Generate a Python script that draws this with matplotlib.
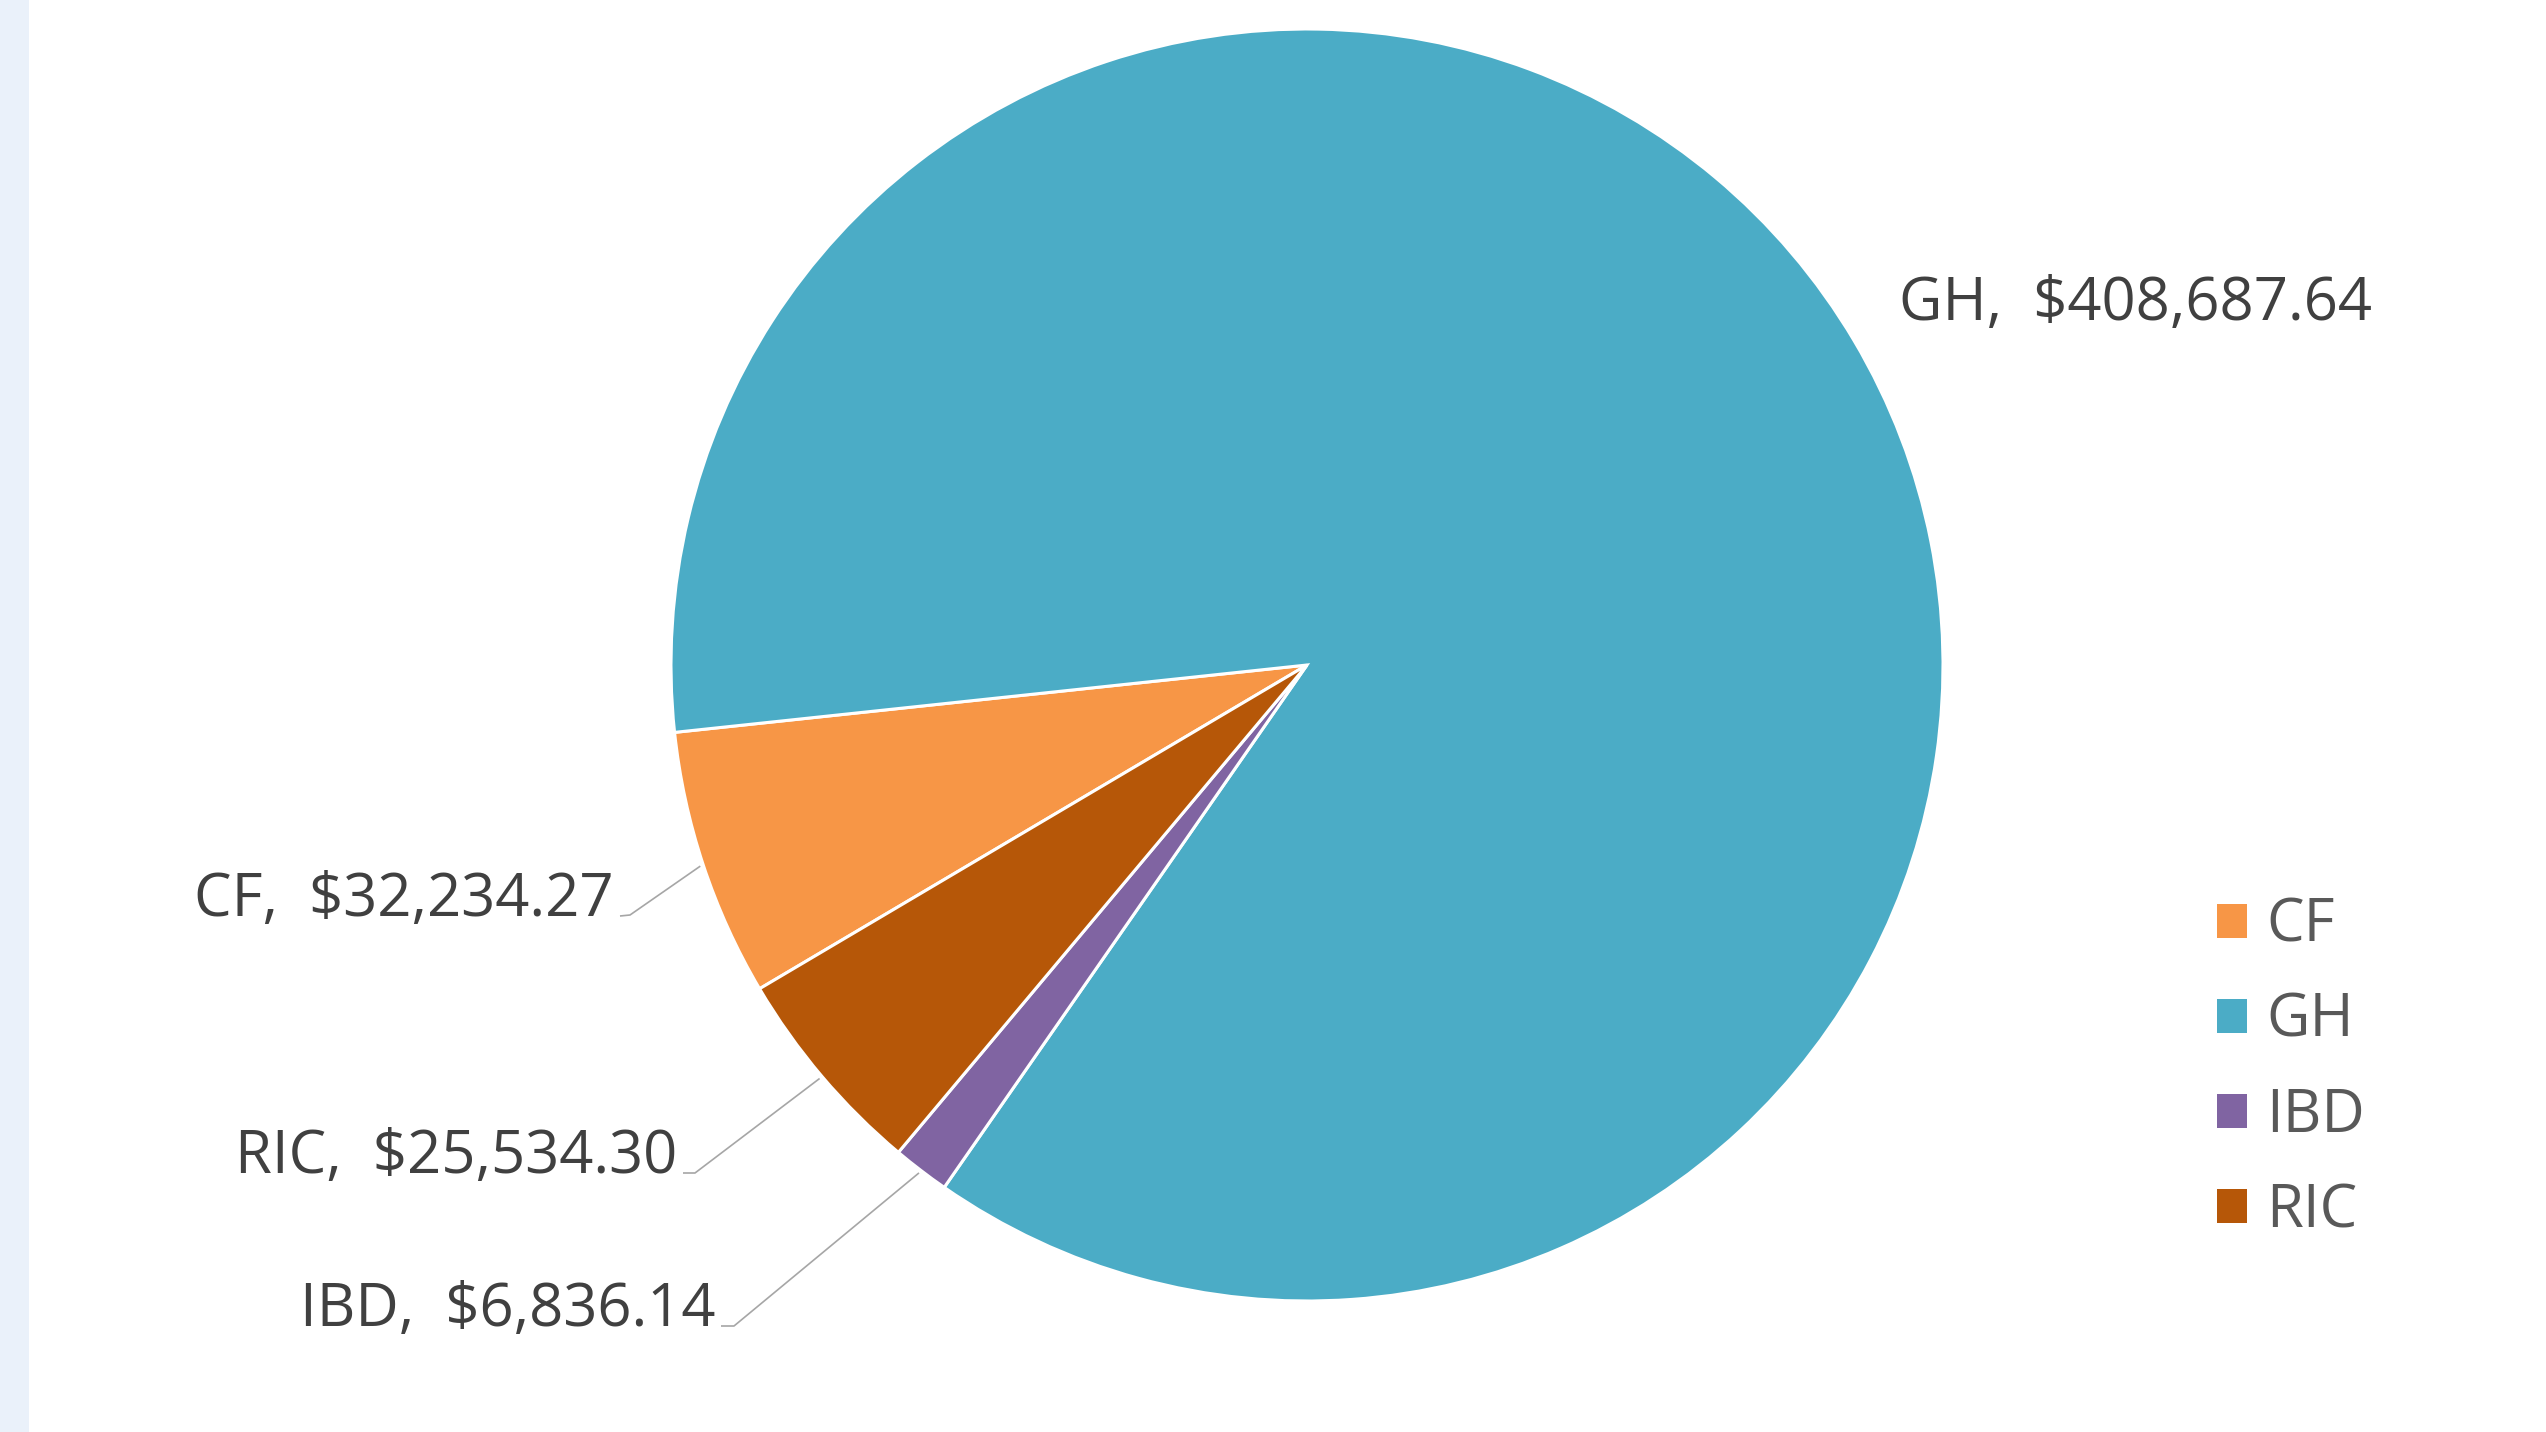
import numpy as np
import matplotlib.pyplot as plt
from matplotlib.patches import Rectangle

# Program spending by category
categories = ['CF', 'GH', 'IBD', 'RIC']
amounts = [32234.27, 408687.64, 6836.14, 25534.30]
colors = ['#F79646', '#4BACC6', '#8064A2', '#B65708']

plt.rcParams['font.family'] = ['Open Sans', 'DejaVu Sans']

W, H = 2546, 1432
fig = plt.figure(figsize=(W / 100, H / 100), dpi=100)

# light strip on the left edge
fig.patches.append(Rectangle((0, 0), 29 / W, 1, transform=fig.transFigure,
                             facecolor='#EAF1FA', edgecolor='none', zorder=0))

# axes in units of the pie radius
cx, cy, rad = 1307, 767, 636
ax = fig.add_axes([0, 0, 1, 1])
ax.axis('off')

start = 210.6
wedges, _ = ax.pie(amounts, colors=colors, startangle=start, counterclock=False,
                   radius=1.0, wedgeprops=dict(edgecolor='white', linewidth=2.2))

ax.set_xlim(-cx / rad, (W - cx) / rad)
ax.set_ylim(-cy / rad, (H - cy) / rad)
ax.set_aspect('auto')


def px(x, y_top):
    return (x - cx) / rad, (H - y_top - cy) / rad


label_color = '#404040'
fs = 43

# label anchors: (x of text end, baseline), alignment, leader elbow
label_pos = {
    'CF': (px(614, 916), 'right', px(630, 915)),
    'GH': (px(1899, 320), 'left', None),
    'IBD': (px(715, 1326), 'right', px(734, 1326)),
    'RIC': (px(677, 1173), 'right', px(695, 1173)),
}

for w, name, val in zip(wedges, categories, amounts):
    (tx, ty), ha, elbow = label_pos[name]
    ax.text(tx, ty, f'{name},  ${val:,.2f}', ha=ha, va='baseline',
            fontsize=fs, color=label_color)
    if elbow is not None:
        mid = np.deg2rad((w.theta1 + w.theta2) / 2)
        ex, ey = np.cos(mid) * 1.005, np.sin(mid) * 1.005
        x0 = tx + 6 / rad
        ax.plot([x0, elbow[0], ex], [ty, elbow[1], ey], color='#A6A6A6',
                lw=1.2, solid_capstyle='butt')

leg = fig.legend(wedges, categories, loc='upper left',
                 bbox_to_anchor=(2163 / W, 1 - 842 / H), frameon=False,
                 fontsize=fs, labelcolor='#595959', handlelength=0.5,
                 handleheight=0.5, handletextpad=0.33, labelspacing=0.59)
for h in leg.legend_handles:
    h.set_edgecolor('none')

fig.savefig('out.png', dpi=100, facecolor='white')
